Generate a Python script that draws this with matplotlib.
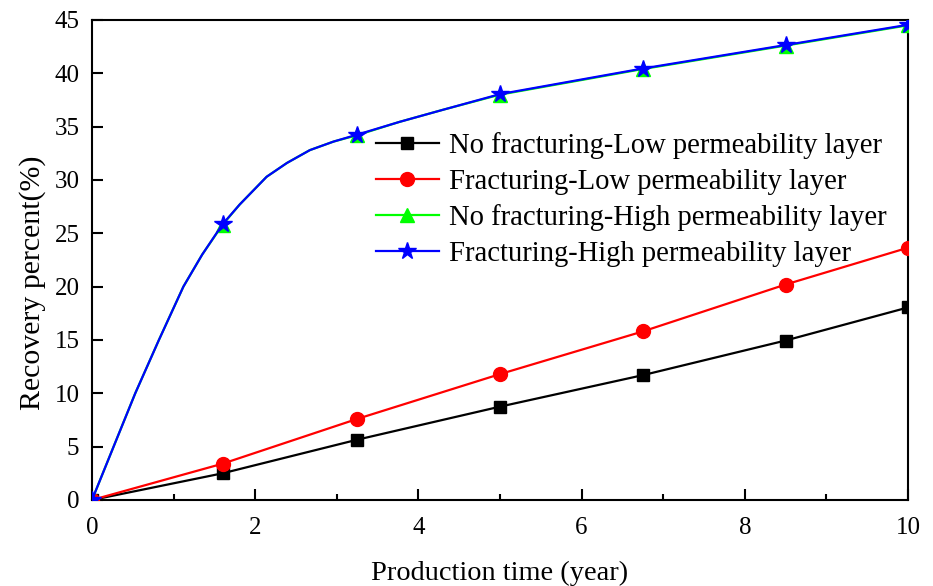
import matplotlib
matplotlib.use("Agg")
import matplotlib.pyplot as plt
from matplotlib.ticker import MultipleLocator

plt.rcParams["font.family"] = ["Liberation Serif", "DejaVu Serif"]

# Recovery percent (%) versus production time (year)
years_low = [0, 1.6, 3.25, 5.0, 6.75, 8.5, 10.0]
no_frac_low = [0, 2.5, 5.65, 8.75, 11.7, 14.95, 18.05]
frac_low = [0, 3.4, 7.6, 11.8, 15.8, 20.2, 23.65]

# High permeability layer: denser readings along the curve, markers at the survey years
years_high = [0, 0.27, 0.53, 0.82, 1.12, 1.35, 1.6, 1.81, 2.14, 2.39, 2.67, 2.96,
              3.25, 3.77, 4.31, 5.0, 6.75, 8.5, 10.0]
no_frac_high = [0, 5.1, 10.0, 15.0, 20.0, 23.0, 25.8, 27.7, 30.3, 31.6, 32.8, 33.6,
                34.2, 35.45, 36.6, 38.0, 40.4, 42.6, 44.5]
frac_high = [0, 5.1, 10.0, 15.0, 20.0, 23.0, 25.85, 27.7, 30.3, 31.6, 32.8, 33.6,
             34.25, 35.45, 36.6, 38.05, 40.45, 42.65, 44.55]
marker_idx = [0, 6, 12, 15, 16, 17, 18]

series_labels = [
    "No fracturing-Low permeability layer",
    "Fracturing-Low permeability layer",
    "No fracturing-High permeability layer",
    "Fracturing-High permeability layer",
]

x_ticks = [0, 2, 4, 6, 8, 10]
y_ticks = [0, 5, 10, 15, 20, 25, 30, 35, 40, 45]

fig = plt.figure(figsize=(9.33, 5.86), dpi=100)
ax = fig.add_axes([0.0986, 0.1468, 0.8746, 0.8191])

lw = 1.6
ax.plot(years_low, no_frac_low, color="black", lw=lw, marker="s", ms=8.5,
        label=series_labels[0], zorder=3)
ax.plot(years_low, frac_low, color="red", lw=lw, marker="o", ms=10,
        label=series_labels[1], zorder=3)
ax.plot(years_high, no_frac_high, color="#00ff00", lw=lw, marker="^", ms=10,
        markevery=marker_idx, label=series_labels[2], zorder=3)
ax.plot(years_high, frac_high, color="blue", lw=lw, marker="*", ms=13,
        markevery=marker_idx, label=series_labels[3], zorder=4)

ax.set_xlim(0, 10)
ax.set_ylim(0, 45)
ax.set_xticks(x_ticks)
ax.set_yticks(y_ticks)
ax.xaxis.set_minor_locator(MultipleLocator(1))

ax.tick_params(axis="both", which="major", direction="in", length=8, width=1.5,
               labelsize=18, top=False, right=False)
ax.tick_params(axis="x", which="major", pad=12)
ax.tick_params(axis="y", which="major", pad=9)
ax.tick_params(axis="x", which="minor", direction="in", length=4.5, width=1.5,
               top=False)
for sp in ax.spines.values():
    sp.set_linewidth(1.5)

ax.set_xlabel("Production time (year)", fontsize=20.4, labelpad=16)
ax.set_ylabel("Recovery percent(%)", fontsize=21.5)
ax.yaxis.set_label_coords(-0.056, 0.452)

leg = ax.legend(loc="upper left", bbox_to_anchor=(0.334, 0.79), frameon=False,
                fontsize=20.6, handlelength=2.2, handletextpad=0.35,
                labelspacing=0.33, borderaxespad=0)

fig.savefig("out.png", dpi=100)
